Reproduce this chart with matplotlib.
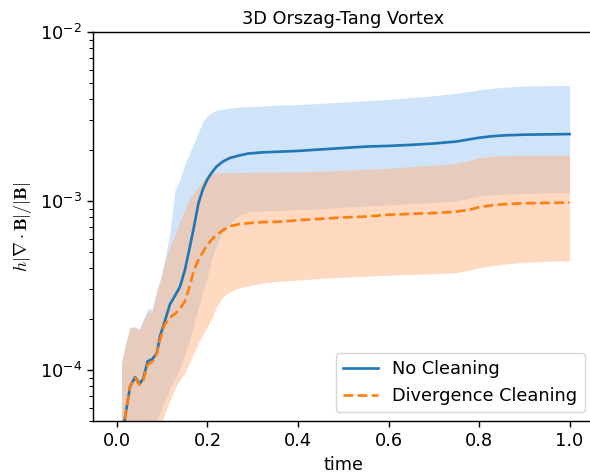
import numpy as np
import matplotlib
matplotlib.use("Agg")
import matplotlib.pyplot as plt

# values
time = [0.01, 0.018, 0.029, 0.04, 0.05, 0.058, 0.068, 0.078, 0.088, 0.095,
        0.105, 0.117, 0.128, 0.139, 0.15, 0.16, 0.17, 0.18, 0.19, 0.2,
        0.21, 0.22, 0.235, 0.25, 0.27, 0.29, 0.32, 0.36, 0.4, 0.45,
        0.5, 0.55, 0.6, 0.65, 0.7, 0.75, 0.78, 0.8, 0.83, 0.86,
        0.9, 0.95, 1.0]

no_clean_mean = [3.5e-5, 5.3e-5, 8.0e-5, 9.1e-5, 8.3e-5, 8.9e-5, 1.13e-4, 1.16e-4, 1.26e-4, 1.58e-4,
                 1.92e-4, 2.45e-4, 2.75e-4, 3.1e-4, 3.9e-4, 5.2e-4, 7.0e-4, 9.7e-4, 1.18e-3, 1.35e-3,
                 1.48e-3, 1.6e-3, 1.72e-3, 1.80e-3, 1.86e-3, 1.91e-3, 1.94e-3, 1.96e-3, 1.98e-3, 2.02e-3,
                 2.06e-3, 2.10e-3, 2.12e-3, 2.15e-3, 2.19e-3, 2.25e-3, 2.32e-3, 2.37e-3, 2.42e-3, 2.45e-3,
                 2.47e-3, 2.48e-3, 2.49e-3]
no_clean_hi = [1.1e-4, 1.4e-4, 1.8e-4, 1.8e-4, 1.75e-4, 2.0e-4, 2.3e-4, 2.3e-4, 3.0e-4, 3.4e-4,
               4.4e-4, 6.5e-4, 1.16e-3, 1.33e-3, 1.66e-3, 1.9e-3, 2.2e-3, 2.55e-3, 2.95e-3, 3.2e-3,
               3.35e-3, 3.45e-3, 3.5e-3, 3.55e-3, 3.6e-3, 3.62e-3, 3.65e-3, 3.7e-3, 3.72e-3, 3.78e-3,
               3.85e-3, 3.92e-3, 4.0e-3, 4.1e-3, 4.2e-3, 4.35e-3, 4.45e-3, 4.55e-3, 4.65e-3, 4.72e-3,
               4.8e-3, 4.82e-3, 4.82e-3]
no_clean_lo = [3e-5, 3e-5, 3e-5, 3e-5, 3e-5, 3e-5, 3.5e-5, 4.2e-5, 5.0e-5, 5.6e-5,
               6.5e-5, 7.8e-5, 9.0e-5, 1.02e-4, 1.25e-4, 1.5e-4, 1.85e-4, 2.35e-4, 2.95e-4, 3.6e-4,
               4.6e-4, 5.5e-4, 6.6e-4, 7.4e-4, 8.2e-4, 8.6e-4, 8.75e-4, 8.8e-4, 8.9e-4, 9.0e-4,
               9.2e-4, 9.35e-4, 9.5e-4, 9.65e-4, 9.8e-4, 1.0e-3, 1.04e-3, 1.07e-3, 1.09e-3, 1.10e-3,
               1.11e-3, 1.12e-3, 1.12e-3]

clean_mean = [3.5e-5, 5.3e-5, 8.0e-5, 9.0e-5, 8.2e-5, 8.7e-5, 1.08e-4, 1.12e-4, 1.25e-4, 1.5e-4,
              1.85e-4, 2.05e-4, 2.15e-4, 2.3e-4, 2.55e-4, 3.1e-4, 3.9e-4, 4.5e-4, 5.0e-4, 5.5e-4,
              5.95e-4, 6.3e-4, 6.75e-4, 7.1e-4, 7.3e-4, 7.4e-4, 7.5e-4, 7.55e-4, 7.7e-4, 7.85e-4,
              8.0e-4, 8.1e-4, 8.3e-4, 8.4e-4, 8.5e-4, 8.65e-4, 8.9e-4, 9.2e-4, 9.45e-4, 9.6e-4,
              9.7e-4, 9.75e-4, 9.8e-4]
clean_hi = [1.1e-4, 1.37e-4, 1.79e-4, 1.79e-4, 1.73e-4, 1.95e-4, 2.2e-4, 2.2e-4, 2.9e-4, 3.3e-4,
            4.3e-4, 5.4e-4, 6.3e-4, 7.6e-4, 8.9e-4, 1.03e-3, 1.12e-3, 1.22e-3, 1.32e-3, 1.4e-3,
            1.45e-3, 1.47e-3, 1.47e-3, 1.47e-3, 1.475e-3, 1.48e-3, 1.48e-3, 1.485e-3, 1.49e-3, 1.5e-3,
            1.52e-3, 1.54e-3, 1.56e-3, 1.6e-3, 1.63e-3, 1.67e-3, 1.74e-3, 1.8e-3, 1.84e-3, 1.86e-3,
            1.87e-3, 1.87e-3, 1.87e-3]
clean_lo = [3e-5, 3e-5, 3e-5, 3e-5, 3e-5, 3e-5, 3e-5, 3e-5, 3.5e-5, 4.5e-5,
            5.5e-5, 6.6e-5, 7.8e-5, 8.8e-5, 9.6e-5, 1.1e-4, 1.27e-4, 1.45e-4, 1.62e-4, 1.82e-4,
            2.05e-4, 2.38e-4, 2.72e-4, 2.92e-4, 3.06e-4, 3.15e-4, 3.27e-4, 3.35e-4, 3.41e-4, 3.49e-4,
            3.54e-4, 3.6e-4, 3.64e-4, 3.68e-4, 3.72e-4, 3.77e-4, 3.92e-4, 4.02e-4, 4.15e-4, 4.25e-4,
            4.35e-4, 4.4e-4, 4.44e-4]

# the reference looks like default styling drawn at ~1.28x scale
s = 1.28
plt.rcParams.update({
    "font.size": 10 * s,
    "lines.linewidth": 1.5 * s,
    "axes.linewidth": 0.8 * s,
    "xtick.major.size": 3.5 * s,
    "ytick.major.size": 3.5 * s,
    "ytick.minor.size": 2 * s,
    "xtick.major.width": 0.8 * s,
    "ytick.major.width": 0.8 * s,
    "ytick.minor.width": 0.6 * s,
    "mathtext.fontset": "cm",
})

fig = plt.figure(figsize=(5.9, 4.75), dpi=100)
ax = fig.add_axes([0.1576, 0.1137, 0.8484, 0.8189])

ax.fill_between(time, no_clean_lo, no_clean_hi, color="#a1c9f4", alpha=0.5, lw=0)
ax.fill_between(time, clean_lo, clean_hi, color="#ffb482", alpha=0.5, lw=0)
ax.plot(time, no_clean_mean, color="C0", label="No Cleaning")
ax.plot(time, clean_mean, color="C1", ls="--", label="Divergence Cleaning")

ax.set_yscale("log")
ax.set_xlim(-0.053, 1.053)
ax.set_ylim(5e-5, 1e-2)
ax.set_xticks([0.0, 0.2, 0.4, 0.6, 0.8, 1.0])
ax.set_xlabel("time")
ax.set_ylabel(r"$h|\nabla\cdot\mathbf{B}|/|\mathbf{B}|$")
ax.set_title("3D Orszag-Tang Vortex", fontsize=10 * s)
ax.legend(loc="lower right")

fig.savefig("out.png", dpi=100)
